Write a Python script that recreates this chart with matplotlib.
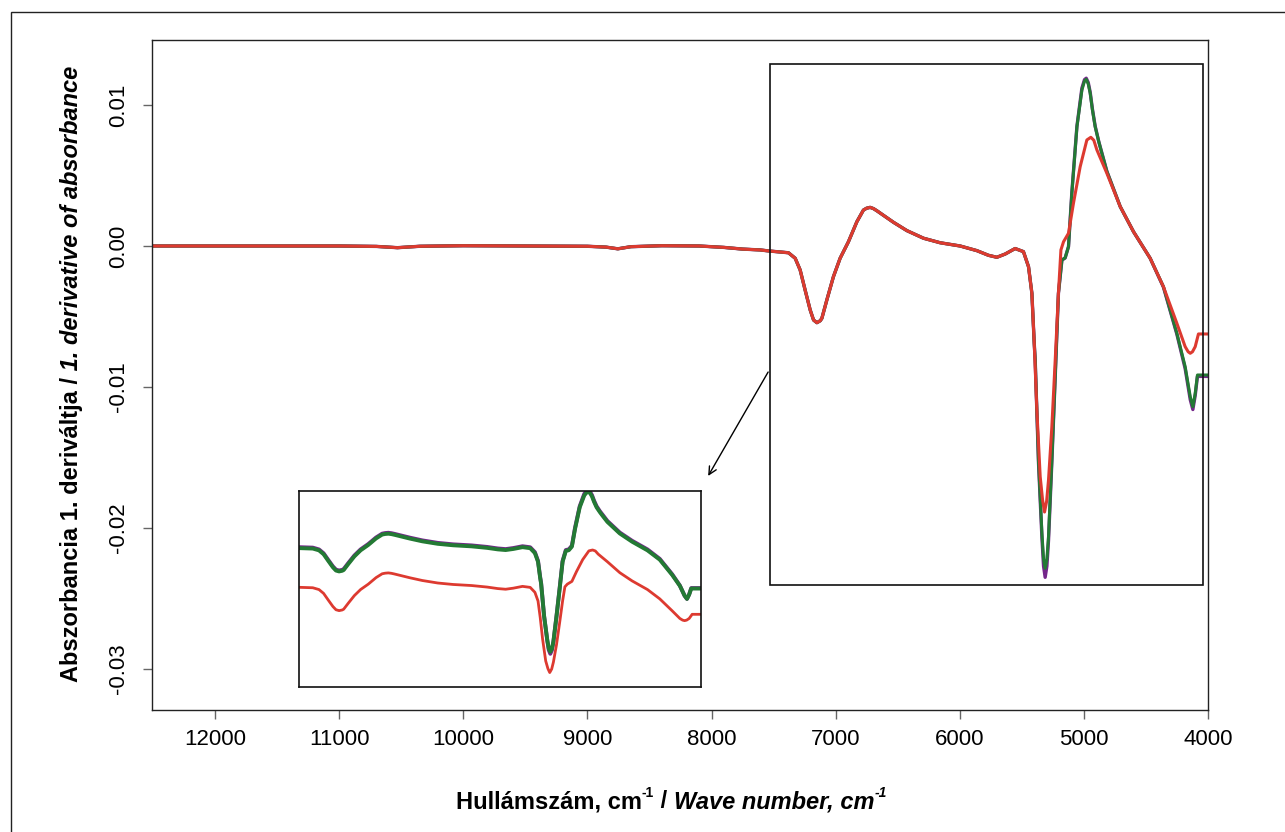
import matplotlib
matplotlib.use("Agg")
import matplotlib.pyplot as plt
from matplotlib.patches import Rectangle

plt.rcParams['font.family'] = ['Liberation Sans', 'DejaVu Sans']

# ---- data (1st derivative spectra) ----
wn_red = [12500, 11800, 11000, 10700, 10530, 10350, 10000, 9500, 9000, 8850,
          8755, 8650, 8400, 8100, 7900, 7750, 7608, 7541, 7380, 7326,
          7286, 7246, 7205, 7178, 7151, 7124, 7111, 7071, 7018, 6964,
          6897, 6829, 6776, 6750, 6722, 6695, 6668, 6534, 6426, 6292,
          6158, 5997, 5862, 5769, 5701, 5634, 5554, 5487, 5446, 5419,
          5400, 5379, 5352, 5333, 5317, 5300, 5285, 5258, 5231, 5205,
          5185, 5164, 5124, 5084, 5030, 4976, 4944, 4920, 4895, 4815,
          4707, 4600, 4466, 4359, 4251, 4184, 4160, 4143, 4125, 4103,
          4077, 4000]
d1_red = [0.0, 0.0, 0.0, -0.00003, -0.00012, -0.00002, 0.00002, 0.0, -0.00002, -0.00008,
          -0.0002, -0.00005, 0.00002, 0.0, -0.0001, -0.00022, -0.00028, -0.00035, -0.00048, -0.00087,
          -0.0017, -0.00312, -0.00454, -0.00525, -0.00544, -0.0053, -0.00513, -0.00383, -0.00218, -0.00087,
          0.0003, 0.00172, 0.00255, 0.00268, 0.00274, 0.00265, 0.0025, 0.00168, 0.00109, 0.00055,
          0.00023, 0.0, -0.00033, -0.00066, -0.0008, -0.00057, -0.00018, -0.0004, -0.00147, -0.00335,
          -0.0069, -0.01163, -0.01636, -0.0180, -0.01887, -0.0181, -0.0166, -0.01282, -0.00809, -0.00335,
          -0.00028, 0.0003, 0.0009, 0.00303, 0.00562, 0.00752, 0.00771, 0.0075, 0.00681, 0.00516,
          0.00279, 0.00101, -0.00087, -0.00289, -0.00548, -0.00714, -0.0075, -0.00761, -0.0075, -0.00714,
          -0.00624, -0.00624]

wn_gp = [12500, 11800, 11000, 10700, 10530, 10350, 10000, 9500, 9000, 8850,
         8755, 8650, 8400, 8100, 7900, 7750, 7608, 7541, 7380, 7326,
         7286, 7246, 7205, 7178, 7151, 7124, 7111, 7071, 7018, 6964,
         6897, 6829, 6776, 6750, 6722, 6695, 6668, 6534, 6426, 6292,
         6158, 5997, 5862, 5769, 5701, 5634, 5554, 5487, 5446, 5419,
         5400, 5392, 5366, 5338, 5325, 5312, 5298, 5285, 5258, 5231,
         5205, 5177, 5151, 5124, 5097, 5056, 5016, 4995, 4981, 4965,
         4949, 4931, 4909, 4880, 4855, 4815, 4707, 4600, 4466, 4359,
         4251, 4184, 4143, 4122, 4103, 4085, 4000]
d1_green = [0.0, 0.0, 0.0, -0.00003, -0.00012, -0.00002, 0.00002, 0.0, -0.00002, -0.00008,
            -0.0002, -0.00005, 0.00002, 0.0, -0.0001, -0.00022, -0.00028, -0.00035, -0.00048, -0.00087,
            -0.0017, -0.00312, -0.00454, -0.00525, -0.00544, -0.0053, -0.00513, -0.00383, -0.00218, -0.00087,
            0.0003, 0.00172, 0.00255, 0.00268, 0.00274, 0.00265, 0.0025, 0.00168, 0.00109, 0.00055,
            0.00023, 0.0, -0.00033, -0.00066, -0.0008, -0.00057, -0.00018, -0.0004, -0.00147, -0.00335,
            -0.0069, -0.00808, -0.01518, -0.02038, -0.0222, -0.02286, -0.0222, -0.02062, -0.01518, -0.00927,
            -0.00335, -0.00099, -0.00084, -0.00005, 0.00374, 0.00846, 0.01106, 0.0117, 0.01182, 0.0115,
            0.01083, 0.00965, 0.00846, 0.0074, 0.00657, 0.0053, 0.00279, 0.00101, -0.00087, -0.00289,
            -0.00619, -0.00856, -0.01069, -0.0114, -0.01045, -0.00915, -0.00915]
d1_purple = [0.0, 0.0, 0.0, -0.00003, -0.00012, -0.00002, 0.00002, 0.0, -0.00002, -0.00008,
             -0.0002, -0.00005, 0.00002, 0.0, -0.0001, -0.00022, -0.00028, -0.00035, -0.00048, -0.00087,
             -0.0017, -0.00312, -0.00454, -0.00525, -0.00544, -0.0053, -0.00513, -0.00383, -0.00218, -0.00087,
             0.0003, 0.00172, 0.00255, 0.00268, 0.00274, 0.00265, 0.0025, 0.00168, 0.00109, 0.00055,
             0.00023, 0.0, -0.00033, -0.00066, -0.0008, -0.00057, -0.00018, -0.0004, -0.00147, -0.00335,
             -0.0069, -0.00815, -0.0153, -0.0207, -0.0227, -0.0235, -0.0227, -0.0209, -0.0153, -0.0093,
             -0.00335, -0.001, -0.00085, -0.00005, 0.0038, 0.0085, 0.0112, 0.0118, 0.0119, 0.0116,
             0.0109, 0.0097, 0.0085, 0.0074, 0.0066, 0.0053, 0.00279, 0.00101, -0.00087, -0.00292,
             -0.00625, -0.0087, -0.0109, -0.0116, -0.0106, -0.00925, -0.00925]

# vertical offsets used in the small offset view
inset_offsets = {"purple": 0.0002, "green": 0.0, "red": -0.0085}

xticks = [12000, 11000, 10000, 9000, 8000, 7000, 6000, 5000, 4000]
yticks = [-0.03, -0.02, -0.01, 0.0, 0.01]
ytick_labels = ["-0.03", "-0.02", "-0.01", "0.00", "0.01"]

RED = "#dd3a30"
GREEN = "#237a34"
PURPLE = "#74278a"

fig = plt.figure(figsize=(12.85, 8.32), dpi=100)
ax = fig.add_axes([152/1285, 1-710/832, (1208-152)/1285, (710-40)/832])

ax.plot(wn_gp, d1_purple, color=PURPLE, lw=2.4, solid_joinstyle="round")
ax.plot(wn_gp, d1_green, color=GREEN, lw=2.2, solid_joinstyle="round")
ax.plot(wn_red, d1_red, color=RED, lw=2.2, solid_joinstyle="round")

ax.set_xlim(12508, 4000)
ax.set_ylim(-0.03291, 0.01461)
ax.set_xticks(xticks)
ax.set_xticklabels([str(t) for t in xticks], fontsize=16)
ax.set_yticks(yticks)
ax.set_yticklabels(ytick_labels, fontsize=16, rotation=90, va="center")
ax.tick_params(direction="out", length=6.8, width=1, color="#666666")
ax.tick_params(axis="x", pad=7)
ax.tick_params(axis="y", pad=10)
for sp in ax.spines.values():
    sp.set_linewidth(1.0)
    sp.set_color("#222222")

# zoom region box and arrow
ax.add_patch(Rectangle((7530, -0.02404), 4040 - 7530, 0.01291 + 0.02404,
                       fill=False, ec="#111111", lw=1.2, zorder=5))
ax.annotate("", xy=(8027, -0.01631), xytext=(7544, -0.00894),
            arrowprops=dict(arrowstyle="->", color="black", lw=1.0,
                            mutation_scale=14, shrinkA=0, shrinkB=0))

# offset view of the 7500-4000 region
ins = fig.add_axes([299/1285, 1-687/832, 402/1285, 196/832])
ins.plot(wn_gp, [v + inset_offsets["purple"] for v in d1_purple], color=PURPLE, lw=2.8)
ins.plot(wn_gp, [v + inset_offsets["green"] for v in d1_green], color=GREEN, lw=2.8)
ins.plot(wn_red, [v + inset_offsets["red"] for v in d1_red], color=RED, lw=2.0)
ins.set_xlim(7500, 4000)
ins.set_ylim(-0.0305, 0.0120)
ins.set_xticks([])
ins.set_yticks([])
for sp in ins.spines.values():
    sp.set_linewidth(1.2)
    sp.set_color("#111111")

# outer frame (cropped at right/bottom in the reference)
fig.patches.append(Rectangle((10.5/1285, -0.2), 1.5, 1.2 - 12.3/832, transform=fig.transFigure,
                             fill=False, ec="#222222", lw=1.0))

# x label: bold + bold italic, with superscripts
fs = 17
t1 = fig.text(456/1285, 1-808/832, "Hullámszám, cm", fontsize=fs, weight="bold", ha="left", va="baseline")
t2 = ax.annotate("-1", xy=(1, 0.55), xycoords=t1, fontsize=10, weight="bold", ha="left", va="bottom")
t3 = ax.annotate(" / ", xy=(1, 0), xycoords=(t2, t1), fontsize=fs, weight="bold", ha="left", va="bottom")
t4 = ax.annotate("Wave number, cm", xy=(1, 0), xycoords=t3, fontsize=fs, weight="bold",
                 style="italic", ha="left", va="bottom")
t5 = ax.annotate("-1", xy=(1, 0.55), xycoords=t4, fontsize=10, weight="bold", style="italic",
                 ha="left", va="bottom")

# y label
y1 = fig.text(72/1285, 1-682/832, "Abszorbancia 1. deriváltja /", fontsize=fs, weight="bold",
              rotation=90, ha="center", va="bottom")
y2 = ax.annotate(" 1. derivative of absorbance", xy=(0.5, 1), xycoords=y1, fontsize=fs,
                 weight="bold", style="italic", rotation=90, ha="center", va="bottom")

fig.savefig("out.png", dpi=100)
